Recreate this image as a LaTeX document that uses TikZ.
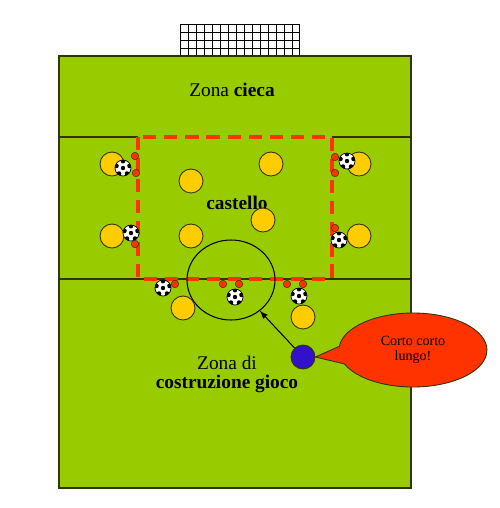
\documentclass[tikz,border=0pt]{standalone}
\usepackage{fontspec}
\setmainfont{Liberation Serif}
\usetikzlibrary{shapes.geometric,shapes.callouts}
\definecolor{pitch}{HTML}{99CC00}
\definecolor{pitchline}{HTML}{2E3300}
\definecolor{mate}{HTML}{FFCC00}
\definecolor{marker}{HTML}{FF3300}
\definecolor{coach}{HTML}{3311CC}

\begin{document}
\begin{tikzpicture}[x=0.02cm,y=-0.02cm,
  mate/.style={circle, draw=pitchline, line width=0.5pt, fill=mate, minimum size=0.48cm, inner sep=0pt},
  dot/.style={circle, draw=pitchline, line width=0.3pt, fill=marker, minimum size=0.15cm, inner sep=0pt},
  ball/.style={circle, draw=black, line width=0.4pt, fill=white, minimum size=0.32cm, inner sep=0pt,
    path picture={
      \fill[black] (path picture bounding box.center) circle (1.25pt);
      \foreach \a in {18,90,162,234,306}
        \fill[black, shift={(path picture bounding box.center)}] (\a:3.9pt) circle (1.3pt);}},
  label/.style={font=\fontsize{11}{13}\selectfont, text=black, inner sep=0pt},
  thinline/.style={line width=0.6pt}]
\useasboundingbox (0,0) rectangle (500,508);
% goal
\fill[white] (180,24) rectangle (299,56);
\foreach \gx in {180,188,...,299} \draw[black, line width=0.5pt] (\gx,24) -- (\gx,56);
\draw[black, line width=0.5pt] (299,24) -- (299,56);
\foreach \gy in {24,32,40,48} \draw[black, line width=0.5pt] (180,\gy) -- (299,\gy);
% pitch
\draw[pitchline, thinline, fill=pitch] (59,56) rectangle (411,488);
\draw[pitchline, thinline] (59,137) -- (138,137);
\draw[pitchline, thinline] (332,137) -- (411,137);
\draw[pitchline, thinline] (59,279) -- (411,279);
\draw[marker, line width=1.8pt, dash pattern=on 7.5pt off 4.5pt] (138,137) rectangle (332,279);
\node[ellipse, draw=black, line width=0.6pt, minimum width=1.76cm, minimum height=1.6cm, inner sep=0pt] (zone) at (231,280) {};
% texts
\node[label] (blind) at (232,90) {Zona \textbf{cieca}};
\node[label] (castle) at (237,203) {\textbf{castello}};
\node[label] (build1) at (227,363) {Zona di};
\node[label] (build2) at (227,384) {\textbf{costruzione gioco}};
% players
\node[mate] (y1) at (112,164) {};
\node[mate] (y2) at (191,181) {};
\node[mate] (y3) at (271,164) {};
\node[mate] (y4) at (359,164) {};
\node[mate] (y5) at (112,236) {};
\node[mate] (y6) at (191,236) {};
\node[mate] (y7) at (263,220) {};
\node[mate] (y8) at (359,236) {};
\node[mate] (y9) at (183,308) {};
\node[mate] (y10) at (303,317) {};
% balls
\node[ball] (b1) at (123,168) {};
\node[ball] (b2) at (131,233) {};
\node[ball] (b3) at (347,161) {};
\node[ball] (b4) at (339,240) {};
\node[ball] (b5) at (163,288) {};
\node[ball] (b6) at (235,297) {};
\node[ball] (b7) at (299,296) {};
% markers
\node[dot] (r1) at (135,156) {};
\node[dot] (r2) at (136,173) {};
\node[dot] (r3) at (135,244) {};
\node[dot] (r4) at (335,157) {};
\node[dot] (r5) at (335,173) {};
\node[dot] (r6) at (335,228) {};
\node[dot] (r7) at (175,284) {};
\node[dot] (r8) at (223,284) {};
\node[dot] (r9) at (239,284) {};
\node[dot] (r10) at (287,284) {};
\node[dot] (r11) at (303,284) {};
% coach
\node[circle, draw=pitchline, line width=0.5pt, fill=coach, minimum size=0.48cm, inner sep=0pt] (coach) at (303,357) {};
\draw[-latex, black, thinline] (coach) -- (zone);
\node[ellipse callout, draw=pitchline, line width=0.5pt, fill=marker, minimum width=2.96cm, minimum height=1.48cm,
  callout absolute pointer={(coach.east)}, callout pointer arc=28, align=center, font=\fontsize{8}{8.6}\selectfont] (shout) at (413,350) {Corto corto\\lungo!};
\end{tikzpicture}
\end{document}
